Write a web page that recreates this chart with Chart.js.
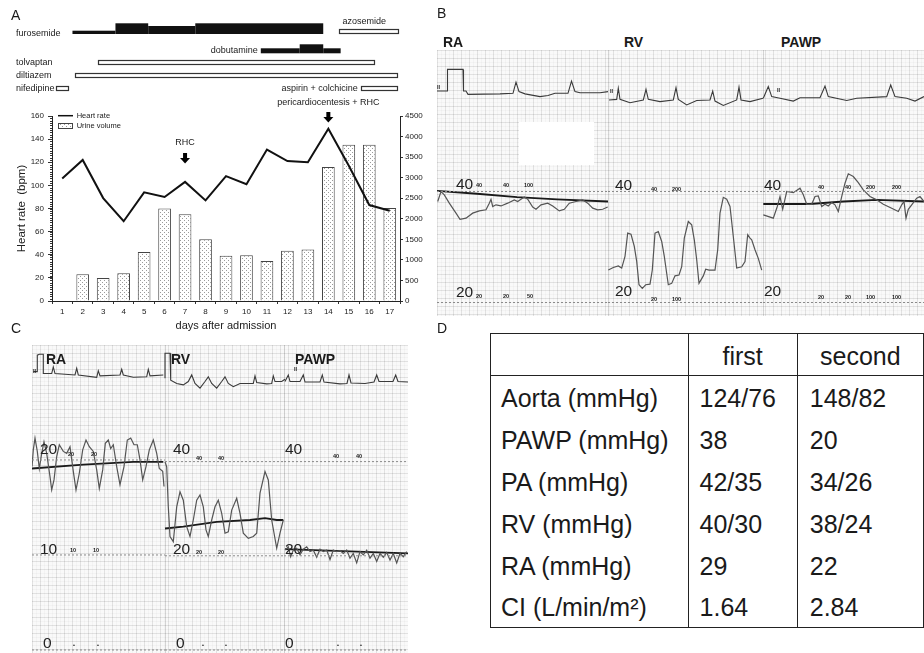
<!DOCTYPE html>
<html>
<head>
<meta charset="utf-8">
<script src="https://cdn.jsdelivr.net/npm/chart.js@4.4.1/dist/chart.umd.min.js"></script>
<style>
  html, body { margin: 0; padding: 0; background: #fff; }
  body { width: 924px; height: 653px; position: relative; overflow: hidden;
         font-family: "Liberation Sans", Arial, sans-serif; color: #1a1a1a; }
  canvas { position: absolute; }
  .lbl { position: absolute; white-space: nowrap; line-height: 1; }
  .paper { position: absolute; background-color: #f9f9f9;
    background-image:
      linear-gradient(to right, rgba(0,0,0,0.075) 1px, transparent 1px),
      linear-gradient(to bottom, rgba(0,0,0,0.075) 1px, transparent 1px),
      linear-gradient(to right, rgba(0,0,0,0.025) 1px, transparent 1px),
      linear-gradient(to bottom, rgba(0,0,0,0.025) 1px, transparent 1px);
    background-size: 8px 8px, 8px 8px, 4px 4px, 4px 4px; }
  .sep { position: absolute; width: 1px; background: rgba(0,0,0,0.15); }
  #tableD { position: absolute; left: 490px; top: 333px; border-collapse: collapse;
            border: 1.5px solid #222; font-size: 25px; color: #1a1a1a; }
  #tableD th, #tableD td { padding: 0; text-align: left; white-space: nowrap; line-height: 1; }
  #tableD th { height: 38px; padding-top: 3px; font-weight: normal; text-align: center; border-bottom: 1.5px solid #222; }
  #tableD td { height: 38.9px; padding-top: 3px; }
  #tableD .c1 { width: 190px; padding-left: 10px; }
  #tableD .c2 { width: 101px; padding-left: 11px; border-left: 1.5px solid #222; }
  #tableD .c3 { width: 120px; padding-left: 12px; border-left: 1.5px solid #222; }
  #tableD th.c2, #tableD th.c3 { padding-left: 0; }
</style>
</head>
<body>
<canvas id="chartA" width="430" height="335" style="left:0;top:0"></canvas>

<div class="paper" style="left:437px;top:50px;width:487px;height:266px"></div>
<div class="sep" style="left:608px;top:50px;height:266px"></div>
<div class="sep" style="left:763px;top:50px;height:266px"></div>
<canvas id="chartB" width="487" height="266" style="left:437px;top:50px"></canvas>
<div style="position:absolute;left:519px;top:122px;width:75px;height:43px;background:#fff"></div>

<div class="paper" style="left:32px;top:345px;width:376px;height:308px"></div>
<div class="sep" style="left:165px;top:345px;height:308px"></div>
<div class="sep" style="left:284px;top:345px;height:308px"></div>
<canvas id="chartC" width="376" height="308" style="left:32px;top:345px"></canvas>

<table id="tableD"></table>

<script>
// ---------- Panel A data ----------
const days = ['1','2','3','4','5','6','7','8','9','10','11','12','13','14','15','16','17'];
const heartRate = [106, 122, 89, 69, 94, 90, 103, 87, 108, 101, 131, 121, 120, 149, 117, 83, 78];
const urineVolume = [null, 650, 560, 675, 1190, 2250, 2110, 1500, 1100, 1110, 970, 1220, 1250, 3260, 3800, 3800, 2260];

// drug timeline: [start day, end day, dose level]
const furosemideDoses = [[1.5, 3.6, 1], [3.6, 5.2, 3], [5.2, 7.5, 2], [7.5, 13.75, 3]];
const dobutamineDoses = [[10.7, 12.6, 1], [12.6, 13.75, 2], [13.75, 14.6, 1]];
const oralDrugs = ['tolvaptan', 'diltiazem', 'nifedipine', 'azosemide', 'aspirin + colchicine'];
const oralStart = [2.76, 1.62, 0.68, 14.5, 15.58];
const oralEnd = [16.24, 17.34, 1.3, 17.4, 17.34];
const procedures = ['RHC', 'pericardiocentesis + RHC'];
const procedureDays = [7, 14];

// ---------- Panel B traces (x: sample, y: mmHg) ----------
const ecgB_RA = [[0,58.1],[10,58.1],[10.5,62.0],[26,62.0],[26.5,58.1],[29,58.1],[31,57.5],[63,57.6],[76,57.7],[79,59.7],[82,58.0],[88,57.6],[103,57.1],[111,57.3],[118,57.7],[131,57.7],[134.5,59.9],[138,58.0],[143,57.8],[163,57.8],[171,58.0]];
const ecgB_RV = [[172,56.5],[179.7,56.6],[181.3,58.6],[183,56.6],[193,56.0],[206.3,56.5],[209,58.4],[211.3,56.6],[223,56.2],[236.3,56.5],[239,58.7],[241.3,56.6],[249.7,55.6],[259.7,56.4],[273,56.5],[275.7,58.1],[278,56.3],[286.3,55.5],[299.7,56.5],[302,58.8],[304,56.5],[313,56.2],[326,56.8]];
const ecgB_PAWP = [[326.3,56.8],[331.3,58.9],[334.7,57.1],[343,56.8],[356.3,56.3],[363,56.9],[383,56.9],[388,59.0],[391.3,57.1],[409.7,56.4],[419.7,56.8],[449.7,57.1],[453.7,59.2],[458,57.1],[469.7,56.8],[478,56.3],[487,57.1]];
const waveB_RA = [[0.7,38.2],[4,40.0],[7.3,39.4],[12.3,37.9],[19,36.1],[23,35.0],[29,35.2],[35.7,36.1],[42.3,36.5],[49,36.7],[52.3,37.9],[54,38.6],[55.7,37.3],[59,37.6],[64,37.4],[70.7,37.9],[77.3,38.5],[80.7,38.2],[84,38.6],[87.3,39.0],[90.7,38.6],[95.7,37.2],[99,36.8],[104,37.6],[110.7,37.9],[115.7,37.4],[122.3,36.5],[127.3,36.8],[132.3,37.9],[139,38.2],[145.7,38.5],[150.7,37.9],[155.7,37.0],[160.7,36.7],[165.7,36.8],[170.7,37.2]];
const meanB_RA = [[0,40.1],[40,39.6],[80,39.0],[120,38.6],[171,38.2]];
const waveB_RV = [[171.3,25.85],[176.3,26.3],[181.3,26.6],[184.7,26.2],[188,28.3],[190.7,32.5],[194,32.3],[197.3,30.1],[199.7,27.4],[202,23.2],[205.3,22.55],[208.7,23.2],[213,23.3],[215.3,25.85],[218,32.5],[221.3,32.8],[224.7,31.0],[227.3,28.3],[231.3,23.2],[234.7,23.45],[238,24.8],[242,24.95],[244.7,26.45],[247.3,31.6],[251.3,34.6],[254.7,34.0],[257.3,31.3],[259.7,27.7],[262,23.45],[266.3,24.8],[268.7,26.0],[272,25.85],[275.3,25.85],[278,25.85],[280.7,29.5],[283,36.1],[286.3,38.95],[289.7,38.6],[293,37.3],[296.3,31.9],[299.7,26.2],[304.7,26.45],[308,27.4],[310.7,32.2],[313,31.6],[314.7,31.3],[318,29.5],[321.3,27.95],[324.7,25.85]];
const waveB_PAWP = [[326.3,35.8],[336.3,35.2],[340.3,37.3],[343,39.1],[345.7,36.8],[349.7,40.0],[356.3,39.8],[363,40.6],[366.3,39.4],[369.7,37.7],[374.7,37.7],[378,39.1],[381.3,39.2],[384.7,37.3],[388,37.7],[391.3,37.4],[394.7,38.0],[398,37.6],[401.3,36.4],[404.7,39.1],[408,41.5],[411.3,43.2],[416.3,42.7],[421.3,41.6],[426.3,40.3],[433,39.1],[439.7,38.5],[446.3,37.7],[454.7,37.0],[461.3,36.4],[464.7,37.6],[467,38.2],[469,35.2],[471.3,36.8],[474.7,37.6],[479.7,38.8],[483,39.1],[487,38.2]];
const meanB_PAWP = [[326.3,37.75],[373,37.75],[406.3,38.2],[439.7,38.5],[487,38.2]];
const sectionsB = [[0,171],[171,326],[326,487]];
const refLevelsB = [40, 20];

// ---------- Panel C traces ----------
const ecgC_RA = [[1.3,59.1],[5.3,59.1],[5.3,62.6],[7.3,62.8],[11.3,62.8],[11.3,58.7],[19.7,58.7],[21.3,60.1],[23,58.7],[43,58.4],[44.7,59.8],[46.3,58.4],[64.7,57.9],[66.3,59.3],[68,58.2],[88,58.4],[89.7,59.6],[91.3,58.4],[101.3,57.9],[114.7,58.0],[116.3,59.6],[118,58.2],[131.3,58.4]];
const ecgC_RV = [[133,57.7],[133,63.0],[138,63.0],[138.7,57.3],[144.7,56.6],[151.3,56.3],[156.3,57.0],[159.7,58.4],[163,56.6],[168,55.6],[173,57.0],[176.3,58.0],[179.7,56.6],[184.7,55.6],[189.7,57.0],[193,58.0],[196.3,56.6],[201.3,55.9],[208,56.6],[221.3,56.6],[223,58.2],[224.7,56.8],[234.7,56.5],[239.7,56.6],[241.3,58.2],[243,57.0],[249.7,57.0],[253,57.5]];
const ecgC_PAWP = [[253,57.0],[256.3,58.4],[258,57.0],[268,57.0],[271.3,58.4],[273,56.9],[288,56.9],[290.3,58.4],[292,56.9],[308,56.5],[315,56.6],[317,58.4],[319,56.7],[333,56.6],[342,56.9],[344.7,58.4],[347,57.0],[361,57.0],[363.7,58.4],[366,57.0],[376,56.9]];
const waveC_RA = [[0,19.3],[1.3,21.06],[3,22.3],[5.3,20.9],[7.3,19.1],[9.7,20.7],[12,21.9],[14.7,20.7],[18,18.25],[19.7,16.85],[22,17.9],[24.7,20.35],[27.3,21.6],[31.3,20.9],[34.7,20.7],[38,21.4],[41.3,18.8],[44,16.85],[47.3,18.6],[50.7,21.06],[54,22.1],[57.3,21.4],[61.3,20.9],[64.7,18.95],[67.3,17.0],[70.7,18.95],[73.3,21.75],[76.3,22.1],[78.7,21.2],[81.3,21.6],[84.7,19.3],[88,17.4],[92,19.3],[95.3,22.1],[98.7,22.3],[102,21.6],[105.3,21.6],[108,20.0],[110.7,17.9],[114,19.3],[117.3,21.06],[121.3,22.1],[124.7,20.7],[127.3,19.1],[130.7,18.8],[132,17.2]];
const meanC_RA = [[0,19.1],[51.3,19.5],[101.3,19.8],[131.3,19.8]];
const waveC_RV = [[133,39.98],[134.7,38.9],[136.3,30.4],[138,24.1],[141.3,23.0],[144.7,30.4],[148,33.6],[151.3,31.8],[154.7,26.2],[158,24.1],[161.3,27.6],[164.7,31.8],[168,32.9],[171.3,30.4],[174,25.5],[176.3,24.1],[179.7,27.6],[183,30.4],[186.3,31.8],[189.7,29.0],[193,24.8],[196.3,25.1],[199.7,29.7],[204.7,32.2],[208,29.0],[211.3,24.8],[216.3,23.7],[221.3,24.1],[224.7,24.8],[228,33.3],[233,37.9],[236.3,36.1],[239.7,27.6],[244.7,21.6],[248,24.8],[251.3,27.6]];
const meanC_RV = [[133,25.8],[151.3,26.2],[184.7,27.2],[218,27.6],[233,28.0],[244.7,27.6],[251.3,27.6]];
const waveC_PAWP = [[253,21.2],[256.3,21.9],[258.7,19.8],[261.3,21.2],[264.7,21.6],[268,20.2],[271.3,21.4],[274.7,21.9],[278,20.9],[281.3,21.2],[284.7,19.7],[288,21.4],[291.3,20.9],[294.7,21.2],[298,19.2],[301.3,21.2],[304.7,20.9],[308,21.1],[311.3,20.5],[314.7,21.2],[318,19.5],[321.3,20.5],[324.7,18.5],[328,20.9],[331.3,20.2],[334.7,21.2],[338,19.5],[341.3,20.5],[344.7,18.8],[348,20.5],[351.3,19.7],[354.7,20.7],[358,19.1],[361.3,20.5],[364.7,18.5],[368,20.5],[371.3,19.8],[374.7,20.9]];
const meanC_PAWP = [[253,21.4],[376,20.5]];
const sectionsC = [[0,133],[133,252],[252,376]];
const refLevelsC_RA = [20, 10, 0];
const refLevelsC = [40, 20, 0];

// ---------- Panel D table ----------
const hemoParams = ['Aorta (mmHg)', 'PAWP (mmHg)', 'PA (mmHg)', 'RV (mmHg)', 'RA (mmHg)', 'CI (L/min/m²)'];
const firstRHC = ['124/76', '38', '42/35', '40/30', '29', '1.64'];
const secondRHC = ['148/82', '20', '34/26', '38/24', '22', '2.84'];

Chart.defaults.font.family = '"Liberation Sans", Arial, sans-serif';
Chart.defaults.color = '#222';

const pts = arr => arr.map(([x, y]) => ({ x, y }));

// stipple fill for urine bars
const dots = document.createElement('canvas');
dots.width = 4; dots.height = 4;
const dctx = dots.getContext('2d');
dctx.fillStyle = '#fff'; dctx.fillRect(0, 0, 4, 4);
dctx.fillStyle = '#9a9a9a'; dctx.fillRect(0, 0, 1, 1); dctx.fillRect(2, 2, 1, 1);
const stipple = dctx.createPattern(dots, 'repeat');

// timeline, annotations, legend and minor ticks for panel A
const panelAExtras = {
  id: 'panelAExtras',
  afterDraw(chart) {
    const ctx = chart.ctx;
    const xs = chart.scales.x, ys = chart.scales.y;
    const px = d => xs.getPixelForValue(d - 1);
    ctx.save();

    // minor ticks on heart rate axis
    ctx.strokeStyle = '#333'; ctx.lineWidth = 1;
    ctx.beginPath();
    for (let v = 0; v <= 160; v += 2) {
      const y = Math.round(ys.getPixelForValue(v)) + 0.5;
      ctx.moveTo(ys.right - 2, y); ctx.lineTo(ys.right, y);
    }
    ctx.stroke();

    // filled drug bars
    ctx.fillStyle = '#111';
    const furoH = [0, 3.3, 8, 10.7];
    furosemideDoses.forEach(([a, b, lvl]) => ctx.fillRect(px(a), 34 - furoH[lvl], px(b) - px(a), furoH[lvl]));
    const dobuH = [0, 5, 9];
    dobutamineDoses.forEach(([a, b, lvl]) => ctx.fillRect(px(a), 53.3 - dobuH[lvl], px(b) - px(a), dobuH[lvl]));

    // open drug bars
    const rowY = [62, 75.8, 88, 31.3, 88];
    ctx.strokeStyle = '#333'; ctx.lineWidth = 1.2;
    ctx.fillStyle = '#fff';
    oralDrugs.forEach((n, i) => {
      const x0 = Math.round(px(oralStart[i])) + 0.5, x1 = Math.round(px(oralEnd[i])) + 0.5;
      ctx.fillRect(x0, rowY[i] - 2.25, x1 - x0, 4.5);
      ctx.strokeRect(x0, Math.round(rowY[i] - 2.5) + 0.5, x1 - x0, 4);
    });

    // drug labels
    ctx.fillStyle = '#1a1a1a';
    ctx.font = '9px "Liberation Sans", Arial, sans-serif';
    ctx.textBaseline = 'middle';
    ctx.textAlign = 'left';
    ctx.fillText('furosemide', 16, 33.3);
    ctx.fillText(oralDrugs[0], 16, 62.3);
    ctx.fillText(oralDrugs[1], 16, 76);
    ctx.fillText(oralDrugs[2], 16, 88.3);
    ctx.fillText(oralDrugs[3], px(oralStart[3]) + 4, 21.7);
    ctx.textAlign = 'right';
    ctx.fillText('dobutamine', px(dobutamineDoses[0][0]) - 3, 51);
    ctx.fillText(oralDrugs[4], px(oralStart[4]) - 3, 88.3);

    // procedure arrows
    const labelY = [143, 103], arrowTop = [153, 112];
    ctx.textAlign = 'center';
    procedures.forEach((p, i) => {
      const x = px(procedureDays[i]);
      ctx.fillStyle = '#1a1a1a';
      ctx.fillText(p, x, labelY[i]);
      ctx.fillStyle = '#000';
      ctx.fillRect(x - 2, arrowTop[i], 4, 5.5);
      ctx.beginPath();
      ctx.moveTo(x - 5, arrowTop[i] + 5);
      ctx.lineTo(x + 5, arrowTop[i] + 5);
      ctx.lineTo(x, arrowTop[i] + 10.5);
      ctx.closePath(); ctx.fill();
    });

    // legend
    ctx.strokeStyle = '#111'; ctx.lineWidth = 1.5;
    ctx.beginPath(); ctx.moveTo(58, 115.7); ctx.lineTo(73, 115.7); ctx.stroke();
    ctx.fillStyle = stipple; ctx.fillRect(58, 123.5, 15, 5);
    ctx.strokeStyle = '#444'; ctx.lineWidth = 1; ctx.strokeRect(58.5, 123.5, 14, 5);
    ctx.fillStyle = '#1a1a1a';
    ctx.font = '7.5px "Liberation Sans", Arial, sans-serif';
    ctx.textAlign = 'left';
    ctx.fillText(chart.data.datasets[0].label, 76.7, 115.9);
    ctx.fillText(chart.data.datasets[1].label, 76.7, 126.2);
    ctx.restore();
  }
};

new Chart(document.getElementById('chartA'), {
  type: 'bar',
  data: {
    labels: days,
    datasets: [
      { type: 'line', label: 'Heart rate', data: heartRate, yAxisID: 'y',
        borderColor: '#111', borderWidth: 2, pointRadius: 0, tension: 0, order: 0 },
      { type: 'bar', label: 'Urine volume', data: urineVolume, yAxisID: 'y1',
        backgroundColor: stipple, borderColor: '#444', borderWidth: 1,
        barPercentage: 0.62, categoryPercentage: 1, order: 1 }
    ]
  },
  options: {
    responsive: false,
    animation: false,
    events: [],
    layout: { padding: { top: 116, left: 0, right: 0, bottom: 0 } },
    plugins: { legend: { display: false }, tooltip: { enabled: false } },
    scales: {
      x: {
        grid: { display: true, drawOnChartArea: false, tickLength: 3, color: '#333' },
        border: { color: '#222', width: 1 },
        ticks: { font: { size: 8 }, padding: 3, maxRotation: 0, autoSkip: false },
        title: { display: true, text: 'days after admission', font: { size: 11 }, padding: { top: 0, bottom: 2 } },
        afterFit: s => { s.height = 34; }
      },
      y: {
        position: 'left', min: 0, max: 160,
        grid: { drawOnChartArea: false, tickLength: 4, color: '#333' },
        border: { color: '#222', width: 1 },
        ticks: { stepSize: 20, font: { size: 8 }, padding: 4 },
        title: { display: true, text: 'Heart rate  (bpm)', font: { size: 11.5 }, padding: { top: 15, bottom: 0 } },
        afterFit: s => { s.width = 52; }
      },
      y1: {
        position: 'right', min: 0, max: 4500,
        grid: { drawOnChartArea: false, tickLength: 3, color: '#333' },
        border: { color: '#222', width: 1 },
        ticks: { stepSize: 500, font: { size: 8 }, padding: 2, callback: v => String(v) },
        afterFit: s => { s.width = 30; }
      }
    }
  },
  plugins: [panelAExtras]
});

// ---------- pressure tracing charts ----------
function refLines(sections, levels, axis) {
  const out = [];
  sections.forEach(([a, b], i) => {
    levels[i].forEach(v => out.push({ data: [{ x: a, y: v }, { x: b, y: v }], yAxisID: axis[i],
      borderColor: '#8a8a8a', borderWidth: 1, borderDash: [2, 2] }));
  });
  return out;
}
const ecgStyle = { borderColor: '#3a3a3a', borderWidth: 1.1 };
const waveStyle = { borderColor: '#555', borderWidth: 1.2 };
const meanStyle = { borderColor: '#1a1a1a', borderWidth: 1.8 };

function traceOptions(xMax, yScales) {
  const scales = { x: { type: 'linear', display: false, min: 0, max: xMax } };
  Object.entries(yScales).forEach(([k, [lo, hi]]) => { scales[k] = { type: 'linear', display: false, min: lo, max: hi }; });
  return {
    responsive: false, animation: false, events: [],
    layout: { padding: 0 },
    elements: { point: { radius: 0 }, line: { tension: 0 } },
    plugins: { legend: { display: false }, tooltip: { enabled: false } },
    scales
  };
}

new Chart(document.getElementById('chartB'), {
  type: 'line',
  data: {
    datasets: [
      ...refLines(sectionsB, [refLevelsB, refLevelsB, refLevelsB], ['y', 'y', 'y']),
      { data: pts(ecgB_RA), ...ecgStyle },
      { data: pts(ecgB_RV), ...ecgStyle },
      { data: pts(ecgB_PAWP), ...ecgStyle },
      { data: pts(waveB_RA), ...waveStyle },
      { data: pts(waveB_RV), ...waveStyle },
      { data: pts(waveB_PAWP), ...waveStyle },
      { data: pts(meanB_RA), ...meanStyle },
      { data: pts(meanB_PAWP), ...meanStyle }
    ]
  },
  options: traceOptions(487, { y: [17.57, 65.5] })
});

new Chart(document.getElementById('chartC'), {
  type: 'line',
  data: {
    datasets: [
      ...refLines(sectionsC, [refLevelsC_RA, refLevelsC, refLevelsC], ['yRA', 'y', 'y']),
      { data: pts(ecgC_RA), ...ecgStyle },
      { data: pts(ecgC_RV), ...ecgStyle },
      { data: pts(ecgC_PAWP), ...ecgStyle },
      { data: pts(waveC_RA), yAxisID: 'yRA', ...waveStyle },
      { data: pts(waveC_RV), ...waveStyle },
      { data: pts(waveC_PAWP), ...waveStyle },
      { data: pts(meanC_RA), yAxisID: 'yRA', ...meanStyle },
      { data: pts(meanC_RV), ...meanStyle },
      { data: pts(meanC_PAWP), ...meanStyle }
    ]
  },
  options: traceOptions(376, { y: [-0.64, 64.76], yRA: [-0.32, 32.1] })
});

// ---------- text labels ----------
function addLabel(text, x, cy, size, weight, color) {
  const s = document.createElement('span');
  s.className = 'lbl';
  s.textContent = text;
  s.style.left = x + 'px';
  s.style.top = (cy - size / 2) + 'px';
  s.style.fontSize = size + 'px';
  if (weight) s.style.fontWeight = weight;
  if (color) s.style.color = color;
  document.body.appendChild(s);
}
// panel letters
[['A', 11, 15], ['B', 437, 13], ['C', 11, 328], ['D', 437, 328]].forEach(([t, x, y]) => addLabel(t, x, y, 14));
// section titles
[['RA', 443, 41.7], ['RV', 624, 41.7], ['PAWP', 781, 41.7],
 ['RA', 46, 359], ['RV', 171, 359], ['PAWP', 295, 359]].forEach(([t, x, y]) => addLabel(t, x, y, 14, 'bold'));
// scale numbers
[['40', 456, 184], ['20', 456, 291.5], ['40', 615, 185], ['20', 615, 291], ['40', 764, 185], ['20', 764, 291],
 ['20', 40, 449], ['10', 40, 549], ['0', 43, 643], ['40', 173, 449], ['20', 173, 549], ['0', 176, 643],
 ['40', 285, 449], ['20', 285, 549], ['0', 285, 643]].forEach(([t, x, y]) => addLabel(t, x, y, 15.5, null, '#222'));
// tiny recorder marks
[['40', 476, 186], ['40', 503, 186], ['100', 524, 186], ['20', 476, 297], ['20', 503, 297], ['50', 527, 297],
 ['40', 651, 190], ['200', 672, 190], ['20', 651, 300], ['100', 672, 300],
 ['40', 818, 188], ['40', 845, 188], ['200', 866, 188], ['200', 892, 188],
 ['20', 818, 298], ['20', 845, 298], ['100', 866, 298], ['100', 892, 298],
 ['20', 68, 455], ['20', 91, 455], ['10', 70, 551], ['10', 93, 551],
 ['40', 196, 459], ['40', 218, 459], ['20', 196, 553], ['20', 218, 553],
 ['40', 333, 457], ['40', 356, 457],
 ['•', 73, 646], ['•', 97, 646], ['•', 202, 646], ['•', 225, 646], ['•', 337, 646], ['•', 360, 646],
 ['II', 437, 88], ['II', 610, 92], ['II', 777, 90.7], ['II', 33, 372], ['II', 294, 370]
].forEach(([t, x, y]) => addLabel(t, x, y, 5.5, 'bold', '#222'));

// ---------- table ----------
const table = document.getElementById('tableD');
const head = table.insertRow();
['', 'first', 'second'].forEach((t, i) => {
  const th = document.createElement('th');
  th.className = 'c' + (i + 1);
  th.textContent = t;
  head.appendChild(th);
});
hemoParams.forEach((p, i) => {
  const r = table.insertRow();
  [p, firstRHC[i], secondRHC[i]].forEach((t, j) => {
    const td = r.insertCell();
    td.className = 'c' + (j + 1);
    td.textContent = t;
  });
});
</script>
</body>
</html>
